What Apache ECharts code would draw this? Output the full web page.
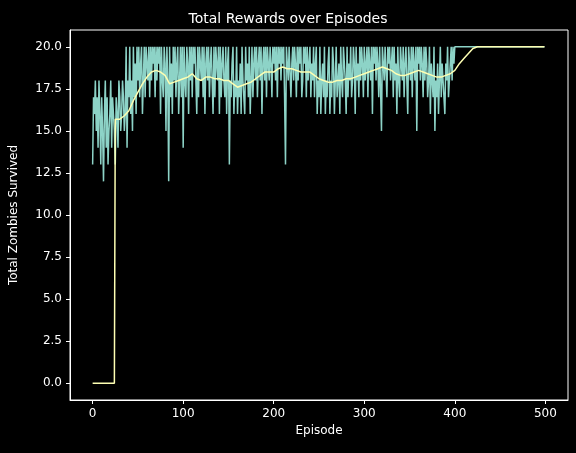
<!DOCTYPE html><html><head><meta charset="utf-8"><script src="https://cdn.jsdelivr.net/npm/echarts@6/dist/echarts.min.js"></script></head><body style="margin:0;background:#000"><div id="c" style="width:576px;height:453px"></div><script>
const raw0=[13,17,16,18,15,17,14,18,16,13,17,15,12,16,18,14,17,13,15,16,18,14,17,16,15,13,17,16,14,18,17,15,16,18,17,15,16,20,14,18,17,20,16,18,15,20,17,19,16,20];
const raw1=[18,20,17,19,20,16,18,20,17,20,19,18,20,17,20,18,20,19,20,17,20,18,20,19,20,16,20,18,17,20,19,15,20,18,12,20,17,19,16,20,18,20,17,19,20,16,18,20,17,20];
const raw2=[14,20,18,17,20,19,16,20,18,20,17,20,19,20,18,16,20,17,20,19,18,20,17,20,16,19,20,18,20,17,19,20,18,16,20,17,20,19,18,20,16,20,17,19,20,18,17,20,16,19];
const raw3=[20,13,18,17,19,20,16,18,17,20,16,18,17,19,16,20,18,17,16,20,18,19,17,20,16,18,20,17,19,20,18,20,17,19,20,18,20,16,19,20,18,20,17,20,19,18,20,19,17,20];
const raw4=[19,20,18,20,17,20,19,20,18,20,19,20,17,13,20,19,18,20,20,17,19,20,18,20,19,17,20,18,20,19,20,17,18,20,19,20,17,20,18,19,20,17,19,18,20,17,19,20,16,18];
const raw5=[17,20,16,18,19,17,20,16,18,17,19,20,16,18,17,20,19,16,18,20,17,18,19,16,20,18,17,20,19,18,16,20,17,19,18,20,17,18,20,19,16,20,18,19,17,20,18,20,19,17];
const raw6=[20,18,19,20,17,20,19,18,20,16,20,19,20,18,20,19,17,20,20,15,20,19,18,20,20,17,20,19,20,18,19,20,17,20,18,19,16,20,18,17,20,19,18,20,17,19,20,18,16,20];
const raw7=[19,18,20,17,20,19,18,20,15,20,19,20,18,20,19,17,20,18,20,19,17,18,20,16,19,18,17,20,15,18,17,19,16,18,20,17,19,18,17,16,19,18,20,17,18,19,20,18,20,19];
const rawTail=new Array(100).fill(20);
const raw=[].concat(raw0,raw1,raw2,raw3,raw4,raw5,raw6,raw7,rawTail);
const maX=[0,24,25,30,35,40,45,50,55,60,65,70,75,80,85,90,95,100,105,110,115,120,125,130,135,140,145,150,155,160,165,170,175,180,185,190,195,200,205,210,215,220,225,230,235,240,245,250,255,260,265,270,275,280,285,290,295,300,305,310,315,320,325,330,335,340,345,350,355,360,365,370,375,380,385,390,395,400,405,410,415,420,425,499];
const maY=[0,0,15.7,15.7,15.9,16.2,16.8,17.3,17.8,18.2,18.5,18.6,18.5,18.3,17.8,17.9,18.0,18.1,18.2,18.4,18.1,18.0,18.2,18.2,18.1,18.1,18.0,18.0,17.8,17.6,17.7,17.8,17.9,18.1,18.3,18.5,18.5,18.5,18.7,18.8,18.7,18.7,18.6,18.5,18.5,18.5,18.3,18.1,18.0,17.9,17.9,18.0,18.0,18.1,18.1,18.2,18.3,18.4,18.5,18.6,18.7,18.8,18.7,18.6,18.4,18.3,18.3,18.4,18.5,18.6,18.5,18.4,18.3,18.2,18.2,18.3,18.4,18.6,19.0,19.3,19.6,19.9,20,20];
const yTicks=[0,2.5,5,7.5,10,12.5,15,17.5,20];
const xTicks=[0,100,200,300,400,500];
const ax={axisLine:{show:true,onZero:false,lineStyle:{color:'#fff'}},axisTick:{show:true,inside:false,length:4,lineStyle:{color:'#fff'}},splitLine:{show:false},axisLabel:{color:'#fff',fontSize:12,fontFamily:'DejaVu Sans'},nameTextStyle:{color:'#fff',fontSize:12,fontFamily:'DejaVu Sans'},nameLocation:'middle'};
const c=echarts.init(document.getElementById('c'));
c.setOption({backgroundColor:'#000',animation:false,
title:{text:'Total Rewards over Episodes',left:'center',top:7,textStyle:{color:'#fff',fontSize:14,fontWeight:'normal',fontFamily:'DejaVu Sans'}},
grid:{left:70,right:8,top:30,bottom:53,show:true,borderColor:'#fff',borderWidth:1},
xAxis:Object.assign({},ax,{type:'value',min:-25,max:525,name:'Episode',nameGap:24,axisTick:Object.assign({},ax.axisTick,{customValues:xTicks}),axisLabel:Object.assign({},ax.axisLabel,{customValues:xTicks})}),
yAxis:Object.assign({},ax,{type:'value',min:-1,max:21,name:'Total Zombies Survived',nameGap:50,axisTick:Object.assign({},ax.axisTick,{customValues:yTicks}),axisLabel:Object.assign({},ax.axisLabel,{customValues:yTicks,formatter:v=>v.toFixed(1)})}),
series:[{type:'line',data:raw.map((v,i)=>[i,v]),showSymbol:false,lineStyle:{color:'#8dd3c7',width:1.5}},
{type:'line',data:maX.map((x,i)=>[x,maY[i]]),showSymbol:false,lineStyle:{color:'#feffb3',width:1.5}}]});
</script></body></html>
